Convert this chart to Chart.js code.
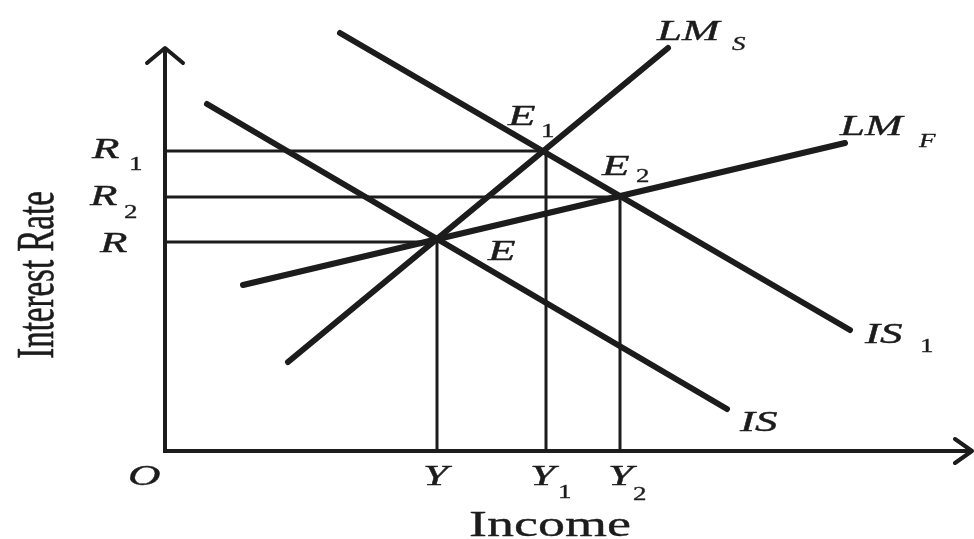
<!DOCTYPE html>
<html>
<head>
<meta charset="utf-8">
<script src="https://cdn.jsdelivr.net/npm/chart.js@4.4.1/dist/chart.umd.min.js"></script>
<style>
  html, body { margin: 0; padding: 0; background: #fff; overflow: hidden; }
  canvas { display: block; }
</style>
</head>
<body>
<canvas id="islm" width="974" height="539"></canvas>
<script>
// equilibria: E, E1, E2
const eqNames = ["E", "E1", "E2"];
const eqIncome = [27.2, 38.1, 45.5];
const eqRate = [20.9, 30.0, 25.4];
const incomeNames = ["Y", "Y1", "Y2"];
const rateNames = ["R", "R1", "R2"];

// curves, two end points each (income, rate)
const isIncome = [4.2, 56.2];
const isRate = [34.7, 4.2];
const is1Income = [17.5, 68.5];
const is1Rate = [41.8, 12.1];
const lmsIncome = [12.3, 50.3];
const lmsRate = [8.9, 40.3];
const lmfIncome = [7.8, 68.0];
const lmfRate = [16.6, 30.8];

// axis extents
const incomeMax = 80.7;
const rateMax = 40.3;

const ink = "#1c1c1c";
const pts = (xs, ys) => xs.map((x, i) => ({ x: x, y: ys[i] }));

function curve(label, xs, ys) {
    return {
        label: label,
        data: pts(xs, ys),
        showLine: true,
        borderColor: ink,
        borderWidth: 6,
        borderCapStyle: "round",
        pointRadius: 0
    };
}

const guides = eqIncome.map((x, i) => ({
    label: "guide " + eqNames[i],
    data: [{ x: 0, y: eqRate[i] }, { x: x, y: eqRate[i] }, { x: x, y: 0 }],
    showLine: true,
    borderColor: ink,
    borderWidth: 3,
    pointRadius: 0
}));

const axes = {
    label: "axes",
    data: [{ x: 0, y: rateMax }, { x: 0, y: 0 }, { x: incomeMax, y: 0 }],
    showLine: true,
    borderColor: ink,
    borderWidth: 4,
    pointRadius: 0
};

// labels: anchor in data units, offset of the main text and of its subscript in px
const labels = [
    { t: "LM", s: "S", x: lmsIncome[1], y: lmsRate[1], dx: -11, dy: -8, sdx: 75, sdy: 10 },
    { t: "LM", s: "F", x: lmfIncome[1], y: lmfRate[1], dx: -5, dy: -8, sdx: 79, sdy: 12 },
    { t: "IS", s: "1", x: is1Income[1], y: is1Rate[1], dx: 15, dy: 13, sdx: 55, sdy: 9 },
    { t: "IS", s: "", x: isIncome[1], y: isRate[1], dx: 13, dy: 22 },
    { t: "E", s: "", x: eqIncome[0], y: eqRate[0], dx: 51, dy: 18 },
    { t: "E", s: "1", x: eqIncome[1], y: eqRate[1], dx: -38, dy: -26, sdx: 33, sdy: 12 },
    { t: "E", s: "2", x: eqIncome[2], y: eqRate[2], dx: -18, dy: -22, sdx: 34, sdy: 7 },
    { t: "R", s: "", x: 0, y: eqRate[0], dx: -65, dy: 10 },
    { t: "R", s: "1", x: 0, y: eqRate[1], dx: -73, dy: 7, sdx: 37, sdy: 12 },
    { t: "R", s: "2", x: 0, y: eqRate[2], dx: -75, dy: 8, sdx: 34, sdy: 13 },
    { t: "Y", s: "", x: eqIncome[0], y: 0, dx: -14, dy: 34 },
    { t: "Y", s: "1", x: eqIncome[1], y: 0, dx: -16, dy: 34, sdx: 28, sdy: 13 },
    { t: "Y", s: "2", x: eqIncome[2], y: 0, dx: -12, dy: 34, sdx: 25, sdy: 15 },
    { t: "O", s: "", x: 0, y: 0, dx: -37, dy: 34 }
];

function heavyText(ctx, text, w) {
    ctx.fillText(text, 0, 0);
    ctx.lineWidth = w;
    ctx.strokeText(text, 0, 0);
}

const drawing = {
    id: "drawing",
    afterDatasetsDraw(chart) {
        const ctx = chart.ctx;
        const sx = chart.scales.x, sy = chart.scales.y;
        const px = v => sx.getPixelForValue(v);
        const py = v => sy.getPixelForValue(v);
        ctx.save();
        ctx.strokeStyle = ink;
        ctx.lineWidth = 4;
        ctx.lineCap = "round";
        ctx.lineJoin = "round";
        // arrow heads
        const yt = [px(0), py(rateMax)];
        ctx.beginPath();
        ctx.moveTo(yt[0] - 18, yt[1] + 15);
        ctx.lineTo(yt[0], yt[1]);
        ctx.lineTo(yt[0] + 18, yt[1] + 15);
        ctx.stroke();
        const xt = [px(incomeMax), py(0)];
        ctx.beginPath();
        ctx.moveTo(xt[0] - 17, xt[1] - 12);
        ctx.lineTo(xt[0], xt[1]);
        ctx.lineTo(xt[0] - 17, xt[1] + 12);
        ctx.stroke();

        // text (the picture is stretched horizontally)
        ctx.fillStyle = ink;
        ctx.textBaseline = "alphabetic";
        ctx.textAlign = "left";
        labels.forEach(l => {
            const x = px(l.x) + l.dx, y = py(l.y) + l.dy;
            ctx.save();
            ctx.translate(x, y);
            ctx.scale(1.5, 1);
            ctx.font = "italic 30px 'Liberation Serif'";
            heavyText(ctx, l.t, 0.4);
            ctx.restore();
            if (l.s) {
                ctx.save();
                ctx.translate(x + l.sdx, y + l.sdy);
                ctx.scale(1.5, 1);
                ctx.font = (/\d/.test(l.s) ? "" : "italic ") + "18px 'Liberation Serif'";
                heavyText(ctx, l.s, 0.3);
                ctx.restore();
            }
        });

        // axis titles
        ctx.save();
        ctx.translate(px(38.5), py(0) + 85);
        ctx.scale(1.5, 1);
        ctx.textAlign = "center";
        ctx.font = "36px 'Liberation Serif'";
        heavyText(ctx, "Income", 0.3);
        ctx.restore();

        ctx.save();
        ctx.translate(53, py(17.6));
        ctx.rotate(-Math.PI / 2);
        ctx.scale(1, 1.6);
        ctx.textAlign = "center";
        ctx.font = "33px 'Liberation Serif'";
        heavyText(ctx, "Interest Rate", 0.4);
        ctx.restore();
        ctx.restore();
    }
};

new Chart(document.getElementById("islm"), {
    type: "scatter",
    data: {
        datasets: [
            axes,
            ...guides,
            curve("IS", isIncome, isRate),
            curve("IS1", is1Income, is1Rate),
            curve("LMS", lmsIncome, lmsRate),
            curve("LMF", lmfIncome, lmfRate)
        ]
    },
    options: {
        responsive: false,
        animation: false,
        layout: { padding: 0 },
        plugins: { legend: { display: false }, tooltip: { enabled: false } },
        scales: {
            x: { type: "linear", display: false, min: -16.5, max: 80.9 },
            y: { type: "linear", display: false, min: -8.8, max: 45.1 }
        }
    },
    plugins: [drawing]
});
</script>
</body>
</html>
